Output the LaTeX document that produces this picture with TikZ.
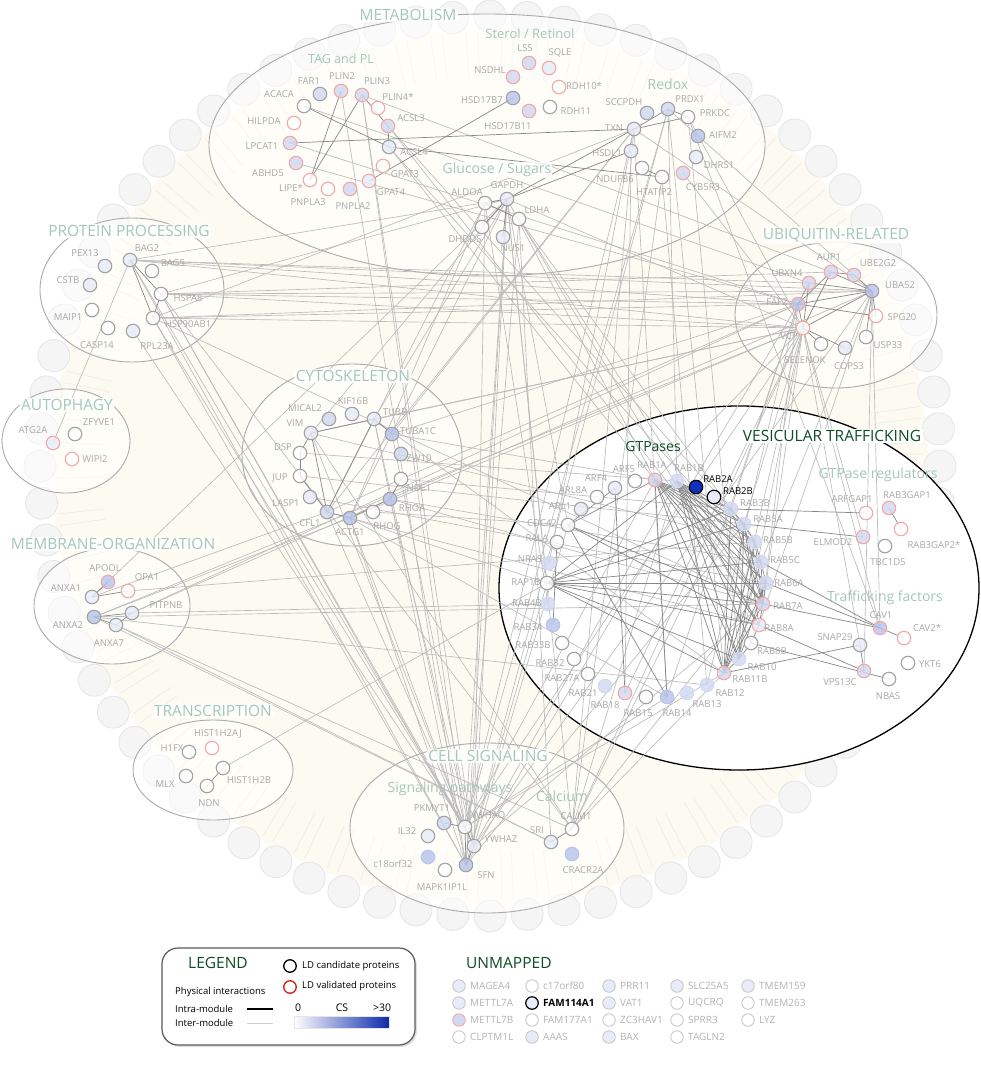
\documentclass[tikz,border=0pt]{standalone}
\usepackage{fontspec}
\setmainfont{Open Sans}
\usetikzlibrary{shapes.geometric,shadows}
\pgfdeclarelayer{bg}
\pgfdeclarelayer{edgelayer}
\pgfsetlayers{bg,edgelayer,main}
\definecolor{cream}{HTML}{FDFBF1}
\definecolor{headfill}{HTML}{F5F5F5}
\definecolor{headdraw}{HTML}{E6E6E6}
\definecolor{tailc}{HTML}{EEEEEE}
\definecolor{modg}{HTML}{AAAAAA}
\definecolor{edgel}{HTML}{BBBBBB}
\definecolor{edged}{HTML}{878787}
\definecolor{labg}{HTML}{A8A8A8}
\definecolor{modl}{HTML}{A5C7BA}
\definecolor{dgreen}{HTML}{0D4D22}
\definecolor{fw}{HTML}{FFFFFF}
\definecolor{fl}{HTML}{E8ECF8}
\definecolor{fm}{HTML}{D2D9F2}
\definecolor{fd}{HTML}{BAC4EC}
\definecolor{sg}{HTML}{A3A3A3}
\definecolor{sr}{HTML}{F3A9A9}
\definecolor{rabd}{HTML}{0F2FBF}
\definecolor{ulg}{HTML}{C8C8C8}
\definecolor{ult}{HTML}{B3B3B3}
\definecolor{legred}{HTML}{D21C1C}
\tikzset{
  prot/.style={circle,minimum size=13.5pt,inner sep=0pt,line width=1.1pt,fill opacity=0.82,draw opacity=1},
  plab/.style={text=labg,font=\fontsize{9.5}{11}\selectfont,inner sep=0pt},
  blab/.style={text=black,font=\fontsize{9.5}{11}\selectfont,inner sep=0pt},
  modlab/.style={text=modl,font=\fontsize{15.5}{18}\selectfont,fill=white,fill opacity=0.85,text opacity=1,inner sep=1.5pt,rounded corners=3pt},
  sublab/.style={text=modl,font=\fontsize{14}{16}\selectfont,inner sep=1pt},
  sublabw/.style={sublab,fill=white,fill opacity=0.85,text opacity=1},
  greenlab/.style={text=dgreen,font=\fontsize{15.5}{18}\selectfont,inner sep=1.5pt},
  module/.style={ellipse,draw=modg,line width=0.9pt,fill=white,fill opacity=0.5,draw opacity=1,inner sep=0pt},
  inter/.style={draw=edgel,line width=0.65pt},
  intra/.style={draw=edged,line width=0.7pt},
  headc/.style={draw=headdraw,fill=headfill,line width=0.8pt},
  tailline/.style={draw=tailc,line width=0.8pt},
  uprot/.style={circle,minimum size=12.5pt,inner sep=0pt,line width=0.9pt},
  ulab/.style={text=ult,font=\fontsize{10}{12}\selectfont,inner sep=0pt},
  legtxt/.style={text=black,font=\fontsize{9.5}{11}\selectfont,inner sep=0pt},
}
\newcommand\pr[8]{\node[prot,fill=#4,draw=#5] (#1) at (#2,#3) {};\node[plab] (#1-t) at (#6,#7) {#8};}
\newcommand\um[6]{\node[uprot,fill=#4,draw=#5] (#1) at (#2,#3) {};\node[ulab,anchor=west] (#1-t) at (#2+11,#3) {#6};}
\begin{document}
\begin{tikzpicture}[x=1pt,y=-1pt]
\useasboundingbox (0,0) rectangle (980,1078);
\begin{pgfonlayer}{bg}
\fill[white] (0,0) rectangle (980,1078);
% lipid droplet background
\fill[cream] (490,466) circle[radius=438pt];
\begin{scope}[shift={(490,466)}]
\foreach \i in {0,...,75}{
  \pgfmathsetmacro\angA{\i*4.7368+1.6}
  \pgfmathsetmacro\angB{\i*4.7368-1.6}
  \draw[tailline] (\angA:434) -- (\angA:388);
  \draw[tailline] (\angB:434) -- (\angB:388);
}
\foreach \i in {0,...,75}{
  \pgfmathsetmacro\ang{\i*4.7368}
  \draw[headc] (\ang:450) circle[radius=16pt];
}
\end{scope}
% modules
\node[module,minimum width=556pt,minimum height=262pt] (mMet) at (487,145) {};
\node[module,minimum width=184pt,minimum height=144pt] (mProt) at (132,290) {};
\node[module,minimum width=128pt,minimum height=104pt] (mAuto) at (66,441) {};
\node[module,minimum width=220pt,minimum height=182pt] (mCyto) at (352,455) {};
\node[module,minimum width=156pt,minimum height=116pt] (mMemb) at (112,606) {};
\node[module,minimum width=160pt,minimum height=100pt] (mTran) at (213,770) {};
\node[module,minimum width=274pt,minimum height=170pt] (mCell) at (487,828) {};
\node[module,minimum width=202pt,minimum height=146pt] (mUbiq) at (836,315) {};
\node[ellipse,draw=black,line width=1.3pt,fill=white,inner sep=0pt,minimum width=480pt,minimum height=364pt] (mVes) at (739,588) {};
% sub labels crossed by lines
\node[sublab] (sSig) at (450,789) {Signaling pathways};
\node[sublab] (sCal) at (562,796) {Calcium};
\node[sublab] (sReg) at (878,475) {GTPase regulators};
\node[sublab] (sTra) at (885,598) {Trafficking factors};
\node[sublab,font=\fontsize{13}{15}\selectfont] (sSte) at (530,34) {Sterol / Retinol};
\node[sublab,font=\fontsize{12.5}{15}\selectfont] (sTag) at (341,59) {TAG and PL};
\node[sublab] (sRed) at (668,84) {Redox};
\end{pgfonlayer}
% ---- proteins: metabolism
\pr{FAR1}{320}{94}{fm}{sg}{309}{81}{FAR1}
\pr{PLIN2}{341}{91}{fm}{sr}{342}{76}{PLIN2}
\pr{PLIN3}{362}{95}{fm}{sr}{377}{81}{PLIN3}
\pr{PLIN4s}{378}{108}{fw}{sr}{398}{97}{PLIN4*}
\pr{ACACA}{304}{106}{fw}{sg}{279}{94}{ACACA}
\pr{HILPDA}{294}{123}{fw}{sr}{264}{121}{HILPDA}
\pr{ACSL3}{388}{126}{fm}{sr}{411}{118}{ACSL3}
\pr{LPCAT1}{290}{143}{fm}{sr}{262}{146}{LPCAT1}
\pr{ACSL4}{389}{147}{fl}{sg}{414}{152}{ACSL4}
\pr{ABHD5}{296}{163}{fm}{sr}{268}{173}{ABHD5}
\pr{GPAT3}{383}{166}{fw}{sr}{405}{174}{GPAT3}
\pr{LIPEs}{310}{180}{fw}{sr}{291}{188}{LIPE*}
\pr{PNPLA3}{328}{189}{fw}{sr}{308}{202}{PNPLA3}
\pr{PNPLA2}{350}{189}{fm}{sr}{353}{206}{PNPLA2}
\pr{GPAT4}{369}{181}{fl}{sr}{391}{192}{GPAT4}
\pr{NSDHL}{513}{77}{fm}{sr}{490}{70}{NSDHL}
\pr{LSS}{529}{63}{fm}{sr}{525}{48}{LSS}
\pr{SQLE}{549}{68}{fl}{sr}{560}{53}{SQLE}
\pr{RDH10s}{559}{87}{fw}{sr}{584}{86}{RDH10*}
\pr{HSD17B7}{513}{98}{fd}{sg}{482}{100}{HSD17B7}
\pr{HSD17B11}{529}{111}{fm}{sr}{508}{126}{HSD17B11}
\pr{RDH11}{550}{107}{fw}{sg}{576}{111}{RDH11}
\pr{ALDOA}{485}{203}{fw}{sg}{467}{192}{ALDOA}
\pr{GAPDH}{507}{199}{fl}{sg}{507}{185}{GAPDH}
\pr{LDHA}{519}{219}{fw}{sg}{537}{210}{LDHA}
\pr{DHDDS}{482}{227}{fw}{sg}{465}{239}{DHDDS}
\pr{NUS1}{503}{237}{fl}{sg}{513}{248}{NUS1}
\pr{SCCPDH}{647}{113}{fm}{sg}{624}{102}{SCCPDH}
\pr{PRDX1}{668}{109}{fm}{sg}{690}{99}{PRDX1}
\pr{PRKDC}{688}{117}{fw}{sg}{715}{113}{PRKDC}
\pr{TXN}{634}{129}{fl}{sg}{614}{128}{TXN}
\pr{AIFM2}{698}{136}{fd}{sg}{723}{135}{AIFM2}
\pr{HSDL1}{631}{151}{fl}{sg}{607}{153}{HSDL1}
\pr{DHRS1}{696}{157}{fl}{sg}{719}{165}{DHRS1}
\pr{NDUFB6}{642}{168}{fw}{sg}{615}{179}{NDUFB6}
\pr{HTATIP2}{662}{177}{fw}{sg}{654}{192}{HTATIP2}
\pr{CYB5R3}{683}{173}{fm}{sr}{703}{187}{CYB5R3}
% protein processing
\pr{BAG2}{130}{260}{fl}{sg}{147}{248}{BAG2}
\pr{PEX13}{105}{266}{fl}{sg}{85}{253}{PEX13}
\pr{BAG5}{152}{271}{fw}{sg}{173}{263}{BAG5}
\pr{CSTB}{90}{285}{fl}{sg}{68}{280}{CSTB}
\pr{HSPA8}{161}{294}{fw}{sg}{188}{298}{HSPA8}
\pr{MAIP1}{92}{310}{fw}{sg}{68}{317}{MAIP1}
\pr{HSP90AB1}{153}{318}{fw}{sg}{188}{324}{HSP90AB1}
\pr{CASP14}{108}{328}{fw}{sg}{97}{345}{CASP14}
\pr{RPL23A}{133}{331}{fl}{sg}{157}{346}{RPL23A}
% autophagy
\pr{ATG2A}{53}{443}{fl}{sr}{33}{430}{ATG2A}
\pr{ZFYVE1}{75}{434}{fw}{sg}{99}{422}{ZFYVE1}
\pr{WIPI2}{72}{459}{fw}{sr}{95}{459}{WIPI2}
% cytoskeleton
\pr{MICAL2}{329}{419}{fm}{sg}{305}{408}{MICAL2}
\pr{KIF16B}{352}{414}{fl}{sg}{353}{401}{KIF16B}
\pr{TUBB}{374}{419}{fl}{sg}{395}{412}{TUBB}
\pr{VIM}{311}{433}{fl}{sg}{295}{423}{VIM}
\pr{TUBA1C}{392}{434}{fd}{sg}{418}{431}{TUBA1C}
\pr{DSP}{300}{453}{fw}{sg}{283}{447}{DSP}
\pr{ZW10}{401}{454}{fm}{sg}{419}{458}{ZW10}
\pr{JUP}{300}{476}{fw}{sg}{280}{478}{JUP}
\pr{NDE1}{401}{479}{fw}{sg}{419}{488}{NDE1}
\pr{LASP1}{310}{497}{fl}{sg}{286}{503}{LASP1}
\pr{RHOA}{390}{499}{fd}{sg}{412}{508}{RHOA}
\pr{CFL1}{327}{512}{fm}{sg}{310}{523}{CFL1}
\pr{ACTG1}{350}{518}{fd}{sg}{350}{532}{ACTG1}
\pr{RHOG}{373}{512}{fw}{sg}{387}{526}{RHOG}
% membrane organization
\pr{APOOL}{108}{582}{fd}{sr}{105}{568}{APOOL}
\pr{OPA1}{128}{591}{fw}{sr}{147}{577}{OPA1}
\pr{ANXA1}{92}{597}{fl}{sg}{66}{588}{ANXA1}
\pr{PITPNB}{132}{613}{fl}{sg}{166}{605}{PITPNB}
\pr{ANXA2}{94}{617}{fd}{sg}{68}{625}{ANXA2}
\pr{ANXA7}{116}{625}{fl}{sg}{109}{643}{ANXA7}
% transcription
\pr{HIST1H2AJ}{212}{748}{fw}{sr}{218}{734}{HIST1H2AJ}
\pr{H1FX}{189}{752}{fw}{sg}{172}{748}{H1FX}
\pr{HIST1H2B}{223}{768}{fw}{sg}{249}{780}{HIST1H2B}
\pr{MLX}{186}{776}{fw}{sg}{165}{784}{MLX}
\pr{NDN}{207}{786}{fw}{sg}{209}{803}{NDN}
% cell signaling
\pr{PKMYT1}{444}{823}{fm}{sg}{432}{808}{PKMYT1}
\pr{YWHAQ}{465}{827}{fw}{sg}{488}{816}{YWHAQ}
\pr{IL32}{428}{836}{fl}{sg}{407}{831}{IL32}
\pr{YWHAZ}{474}{846}{fl}{sg}{501}{839}{YWHAZ}
\pr{SRI}{551}{842}{fl}{sg}{537}{830}{SRI}
\pr{CALM1}{572}{829}{fw}{sg}{576}{816}{CALM1}
\pr{c18orf32}{428}{857}{fd}{fd}{393}{864}{c18orf32}
\pr{CRACR2A}{572}{854}{fd}{fd}{583}{870}{CRACR2A}
\pr{SFN}{466}{865}{fd}{sg}{486}{875}{SFN}
\pr{MAPK1IP1L}{445}{870}{fw}{sg}{442}{887}{MAPK1IP1L}
% ubiquitin
\pr{AUP1}{831}{272}{fm}{sr}{829}{257}{AUP1}
\pr{UBE2G2}{854}{275}{fm}{sr}{878}{263}{UBE2G2}
\pr{UBXN4}{809}{283}{fm}{sr}{787}{273}{UBXN4}
\pr{UBA52}{872}{291}{fd}{sg}{900}{285}{UBA52}
\pr{FAF2}{798}{304}{fd}{sr}{777}{302}{FAF2}
\pr{SPG20}{876}{316}{fw}{sr}{902}{317}{SPG20}
\pr{VCP}{803}{328}{fw}{sr}{789}{336}{VCP}
\pr{USP33}{866}{337}{fw}{sg}{888}{345}{USP33}
\pr{SELENOK}{821}{344}{fw}{sg}{805}{360}{SELENOK}
\pr{COPS3}{845}{348}{fl}{sg}{849}{366}{COPS3}
% vesicular trafficking - GTPases
\pr{RAB1A}{655}{480}{fm}{sr}{652}{465}{RAB1A}
\pr{RAB1B}{677}{481}{fm}{fm}{689}{468}{RAB1B}
\node[prot,fill=rabd,draw=black,fill opacity=1] (RAB2A) at (696,487) {};
\node[blab] (RAB2A-t) at (718,479) {RAB2A};
\node[prot,fill=fl,draw=black,fill opacity=1] (RAB2B) at (714,497) {};
\node[blab] (RAB2B-t) at (738,491) {RAB2B};
\pr{ARF5}{635}{481}{fw}{sg}{624}{469}{ARF5}
\pr{ARF4}{615}{488}{fl}{sg}{596}{478}{ARF4}
\pr{ARL8A}{597}{497}{fw}{sg}{573}{490}{ARL8A}
\pr{ARL1}{581}{509}{fl}{sg}{560}{506}{ARL1}
\pr{CDC42}{568}{525}{fw}{sg}{542}{523}{CDC42}
\pr{RALA}{557}{542}{fw}{sg}{537}{538}{RALA}
\pr{NRAS}{549}{563}{fm}{fm}{530}{559}{NRAS}
\pr{RAP1B}{547}{583}{fw}{sg}{526}{582}{RAP1B}
\pr{RAB4B}{548}{604}{fm}{fm}{527}{603}{RAB4B}
\pr{RAB34}{553}{625}{fd}{fd}{528}{627}{RAB34}
\pr{RAB33B}{562}{643}{fw}{sg}{533}{645}{RAB33B}
\pr{RAB32}{574}{659}{fw}{sg}{550}{663}{RAB32}
\pr{RAB27A}{588}{674}{fw}{sg}{562}{678}{RAB27A}
\pr{RAB21}{605}{686}{fm}{fm}{583}{693}{RAB21}
\pr{RAB18}{625}{693}{fm}{sr}{605}{705}{RAB18}
\pr{RAB15}{646}{697}{fw}{sg}{638}{713}{RAB15}
\pr{RAB14}{667}{697}{fd}{fd}{677}{713}{RAB14}
\pr{RAB13}{687}{693}{fm}{fm}{707}{704}{RAB13}
\pr{RAB12}{707}{685}{fm}{fm}{730}{693}{RAB12}
\pr{RAB11B}{724}{673}{fm}{sr}{750}{679}{RAB11B}
\pr{RAB10}{739}{659}{fm}{fm}{762}{667}{RAB10}
\pr{RAB8B}{751}{643}{fw}{sg}{772}{651}{RAB8B}
\pr{RAB8A}{759}{625}{fl}{sr}{779}{628}{RAB8A}
\pr{RAB7A}{763}{604}{fm}{sr}{788}{606}{RAB7A}
\pr{RAB6A}{766}{583}{fm}{fm}{789}{583}{RAB6A}
\pr{RAB5C}{761}{562}{fm}{fm}{785}{560}{RAB5C}
\pr{RAB5B}{755}{542}{fm}{fm}{778}{540}{RAB5B}
\pr{RAB5A}{744}{524}{fm}{fm}{768}{519}{RAB5A}
\pr{RAB3B}{731}{509}{fm}{fm}{755}{503}{RAB3B}
% regulators / trafficking factors
\pr{ARFGAP1}{866}{513}{fw}{sr}{852}{499}{ARFGAP1}
\pr{RAB3GAP1}{889}{508}{fm}{sr}{907}{495}{RAB3GAP1}
\pr{ELMOD2}{863}{537}{fm}{sr}{833}{542}{ELMOD2}
\pr{RAB3GAP2s}{901}{529}{fw}{sr}{934}{545}{RAB3GAP2*}
\pr{TBC1D5}{885}{546}{fw}{sg}{888}{562}{TBC1D5}
\pr{CAV1}{880}{628}{fd}{sr}{881}{615}{CAV1}
\pr{CAV2s}{904}{638}{fw}{sr}{927}{628}{CAV2*}
\pr{SNAP29}{860}{645}{fl}{sg}{835}{637}{SNAP29}
\pr{YKT6}{908}{663}{fw}{sg}{930}{664}{YKT6}
\pr{VPS13C}{864}{671}{fm}{sr}{840}{682}{VPS13C}
\pr{NBAS}{889}{679}{fw}{sg}{888}{696}{NBAS}
\begin{pgfonlayer}{edgelayer}
% ---- inter-module interactions
\foreach \a/\b in {BAG2/UBA52,BAG2/FAF2,BAG2/VCP,HSPA8/UBA52,HSPA8/FAF2,HSPA8/VCP,HSP90AB1/UBA52,HSP90AB1/VCP,HSP90AB1/FAF2,HSPA8/AUP1,BAG2/UBXN4,
 BAG2/ATG2A,BAG2/YWHAQ,HSPA8/YWHAZ,HSP90AB1/SFN,HSP90AB1/RAB7A,HSPA8/GAPDH,HSP90AB1/TXN,RPL23A/YWHAQ,HSP90AB1/YWHAQ,HSPA8/CALM1,BAG2/GAPDH,
 VCP/RAB1A,VCP/RAB7A,VCP/RAB5A,VCP/RAB11B,VCP/SNAP29,FAF2/RAB7A,FAF2/RAB14,UBA52/CAV1,UBA52/RAB8A,VCP/ELMOD2,FAF2/RAB3B,VCP/RAB10,UBA52/RAB5C,VCP/RAB18,VCP/CAV1,FAF2/RAB12,UBA52/VPS13C,
 VCP/TUBB,FAF2/TUBA1C,VCP/ACTG1,UBA52/RHOA,FAF2/CFL1,VCP/VIM,
 FAF2/ABHD5,VCP/PRKDC,UBA52/PRDX1,VCP/CYB5R3,FAF2/LPCAT1,UBXN4/ACACA,AUP1/PLIN3,VCP/GAPDH,UBA52/TXN,
 VCP/ANXA2,FAF2/PITPNB,VCP/YWHAQ,VCP/CALM1,UBA52/YWHAZ,FAF2/SFN,
 YWHAQ/PLIN3,YWHAQ/GAPDH,YWHAQ/TUBB,YWHAQ/ACTG1,YWHAQ/CFL1,YWHAQ/RAB1A,YWHAQ/RAB11B,YWHAQ/PRDX1,YWHAQ/TXN,YWHAZ/PLIN3,YWHAZ/GAPDH,YWHAZ/TUBA1C,YWHAZ/RHOA,YWHAZ/RAB1B,YWHAZ/RAB7A,YWHAZ/CDC42,
 SFN/PLIN2,SFN/GAPDH,SFN/ACTG1,SFN/TUBB,SFN/RAB5A,SFN/LDHA,SFN/BAG2,YWHAQ/HSPA8,YWHAQ/VIM,CALM1/RAB1B,CALM1/RAB3B,CALM1/RAB11B,CALM1/GAPDH,CALM1/HTATIP2,CALM1/TXN,SRI/ANXA7,SRI/ANXA2,CALM1/VIM,YWHAQ/RAB14,SFN/PRDX1,YWHAZ/ALDOA,SRI/LDHA,CALM1/RAB6A,SFN/RAP1B,
 GAPDH/RAB1A,GAPDH/RAP1B,LDHA/RAB7A,LDHA/RAB8A,LDHA/RAB5B,GAPDH/CDC42,TXN/RAB14,PRDX1/RAB11B,PRKDC/RAB10,HTATIP2/RAB12,ALDOA/RAB4B,ACSL4/RAB5C,ACSL3/RAB5A,ACSL3/RAB7A,ACSL4/RAB1A,PRDX1/RAB1B,TXN/NRAS,HSDL1/RAB18,PRKDC/CAV1,
 GAPDH/TUBB,GAPDH/ACTG1,GAPDH/VIM,ALDOA/ACTG1,ALDOA/CFL1,TXN/CFL1,TXN/TUBA1C,
 ANXA1/CFL1,PITPNB/RHOA,OPA1/RAB5B,ANXA2/RAB7A,ANXA2/RAB12,PITPNB/RAB4B,ANXA7/CALM1,ANXA2/ACTG1,ANXA1/GAPDH,HIST1H2B/RAP1B,
 JUP/RAB5A,DSP/RAB1B,LASP1/RAB6A,RHOA/RAB5C,NDE1/RAB3B,CFL1/RAB8A,ACTG1/RAP1B,TUBA1C/RAB1A,RHOG/CDC42,RHOA/RAB7A,TUBB/RAB11B,ACTG1/RAB14,VIM/RAB5B}
 {\draw[inter] (\a.center) -- (\b.center);}
% ---- intra-module interactions
\foreach \a/\b in {PLIN2/LIPEs,PLIN3/LIPEs,PLIN3/ACSL3,ACSL3/ACSL4,HSD17B7/GPAT4,GAPDH/ALDOA,GAPDH/DHDDS,GAPDH/NUS1,ALDOA/LDHA,TXN/PRDX1,TXN/PRKDC,PRDX1/PRKDC,NDUFB6/HTATIP2,ACSL4/HTATIP2,LPCAT1/TXN,ACACA/ACSL4,GAPDH/TXN,GAPDH/HSDL1,
 BAG2/HSPA8,BAG2/HSP90AB1,HSPA8/HSP90AB1,
 VIM/DSP,DSP/JUP,JUP/CFL1,VIM/CFL1,VIM/TUBB,CFL1/TUBB,CFL1/ACTG1,TUBB/TUBA1C,ACTG1/RHOA,RHOA/NDE1,
 ANXA1/APOOL,ANXA2/PITPNB,ANXA2/ANXA7,ANXA7/PITPNB,ANXA1/OPA1,NDN/HIST1H2B,
 PKMYT1/YWHAQ,YWHAQ/YWHAZ,YWHAQ/SFN,YWHAZ/SFN,SRI/CALM1,
 FAF2/UBXN4,FAF2/AUP1,AUP1/UBE2G2,UBE2G2/UBA52,AUP1/UBA52,FAF2/UBA52,VCP/FAF2,VCP/UBXN4,VCP/AUP1,VCP/UBA52,VCP/SELENOK,VCP/COPS3,UBA52/SPG20,UBA52/USP33,UBXN4/UBA52,FAF2/SPG20,
 RAB1A/RAB3B,RAB1A/RAB5A,RAB1A/RAB5B,RAB1A/RAB5C,RAB1A/RAB6A,RAB1A/RAB7A,RAB1A/RAB8A,RAB1A/RAB10,RAB1A/RAB11B,RAB1A/RAB14,
 RAB1B/RAB3B,RAB1B/RAB5A,RAB1B/RAB5B,RAB1B/RAB5C,RAB1B/RAB6A,RAB1B/RAB7A,RAB1B/RAB8A,RAB1B/RAB8B,RAB1B/RAB10,RAB1B/RAB11B,
 RAB11B/RAB3B,RAB11B/RAB5A,RAB11B/RAB5B,RAB11B/RAB5C,RAB11B/RAB6A,RAB11B/RAB7A,RAB11B/RAP1B,
 RAB3B/RAB5A,RAB5A/RAB5B,RAB5B/RAB5C,RAB5C/RAB6A,RAB6A/RAB7A,RAB7A/RAB8A,RAB8A/RAB8B,RAB8B/RAB10,RAB10/RAB11B,RAB5A/RAB7A,RAB5B/RAB7A,RAB5C/RAB7A,RAB5A/RAB8A,RAB5A/RAB10,RAB3B/RAB7A,RAB5B/RAB10,RAB6A/RAB10,
 RAP1B/RAB3B,RAP1B/RAB5A,RAP1B/RAB5C,RAP1B/RAB6A,RAP1B/RAB7A,RAP1B/RAB8A,RAP1B/RAB1B,RAP1B/RAB10,
 CDC42/RAB14,CDC42/ARF4,CDC42/RAB7A,CDC42/RAB1A,CDC42/RAB8A,ARF4/RAB18,RALA/RAB34,
 RAB3B/ARFGAP1,RAB5A/ELMOD2,RAB6A/CAV1,RAB7A/CAV1,RAB5C/CAV1,RAB11B/SNAP29,RAB8A/VPS13C,RAB8B/NBAS,RAB3GAP1/RAB3GAP2s,CAV1/CAV2s,SNAP29/VPS13C}
 {\draw[intra] (\a.center) -- (\b.center);}
\end{pgfonlayer}
% ---- module labels
\node[modlab] (lMet) at (408,15) {METABOLISM};
\node[sublabw] (sGlu) at (497,170) {Glucose / Sugars};
\node[modlab] (lProt) at (129,231) {PROTEIN PROCESSING};
\node[modlab] (lAuto) at (67,405) {AUTOPHAGY};
\node[modlab] (lCyto) at (353,376) {CYTOSKELETON};
\node[modlab] (lMemb) at (113,544) {MEMBRANE-ORGANIZATION};
\node[modlab] (lTran) at (213,711) {TRANSCRIPTION};
\node[modlab] (lCell) at (488,756) {CELL SIGNALING};
\node[modlab] (lUbiq) at (836,235) {UBIQUITIN-RELATED};
\node[greenlab,font=\fontsize{14}{16}\selectfont] (lGTP) at (653,446) {GTPases};
\node[greenlab,fill=white] (lVes) at (832,436) {VESICULAR TRAFFICKING};
% ---- legend
\node[draw=black!65,line width=1.2pt,rounded corners=16pt,fill=white,minimum width=253pt,minimum height=97pt,drop shadow={opacity=0.25,shadow xshift=2pt,shadow yshift=-2pt}] (legend) at (288.5,996.5) {};
\node[text=dgreen,font=\fontsize{15.5}{18}\selectfont,inner sep=0pt] (legT) at (218,963) {LEGEND};
\node[prot,fill=white,draw=black,line width=1.3pt,minimum size=12.5pt] (legC) at (290,966) {};
\node[legtxt,anchor=west] (legCt) at (302,966) {LD candidate proteins};
\node[prot,fill=white,draw=legred,line width=1.3pt,minimum size=12.5pt] (legV) at (290,987) {};
\node[legtxt,anchor=west] (legVt) at (302,986) {LD validated proteins};
\node[legtxt,anchor=west] (legPI) at (175,992) {Physical interactions};
\node[legtxt,anchor=west] (legIa) at (175,1009) {Intra-module};
\node[legtxt,anchor=west] (legIe) at (175,1023) {Inter-module};
\coordinate (li1) at (247,1009); \coordinate (li2) at (273,1009);
\coordinate (le1) at (247,1023); \coordinate (le2) at (273,1023);
\draw[black,line width=1.2pt] (li1) -- (li2);
\draw[black!20,line width=1pt] (le1) -- (le2);
\node[legtxt,font=\fontsize{10.5}{12}\selectfont] (leg0) at (298,1008) {0};
\node[legtxt,font=\fontsize{10.5}{12}\selectfont] (legCS) at (342,1008) {CS};
\node[legtxt,font=\fontsize{10.5}{12}\selectfont] (leg30) at (382,1008) {>30};
\shade[left color=white,right color=rabd!90!black] (294,1016) rectangle (389,1028);
\draw[black!10,line width=0.5pt] (294,1016) rectangle (389,1028);
% ---- unmapped
\node[text=dgreen,font=\fontsize{15.5}{18}\selectfont,inner sep=0pt,anchor=west] (lUnm) at (466,963) {UNMAPPED};
\um{MAGEA4}{459}{986}{fl}{ulg}{MAGEA4}
\um{METTL7A}{459}{1003}{fl}{ulg}{METTL7A}
\um{METTL7B}{459}{1020}{fm}{sr}{METTL7B}
\um{CLPTM1L}{459}{1037}{fw}{ulg}{CLPTM1L}
\um{c17orf80}{532}{986}{fw}{ulg}{c17orf80}
\node[uprot,fill=fl,draw=black,line width=1.2pt] (FAM114A1) at (532,1003) {};
\node[ulab,text=black,font=\fontsize{10}{12}\selectfont\bfseries,anchor=west] (FAM114A1-t) at (543,1003) {FAM114A1};
\um{FAM177A1}{532}{1020}{fw}{ulg}{FAM177A1}
\um{AAAS}{532}{1037}{fl}{ulg}{AAAS}
\um{PRR11}{609}{986}{fl}{ulg}{PRR11}
\um{VAT1}{609}{1003}{fl}{ulg}{VAT1}
\um{ZC3HAV1}{609}{1020}{fw}{ulg}{ZC3HAV1}
\um{BAX}{609}{1037}{fl}{ulg}{BAX}
\um{SLC25A5}{677}{986}{fl}{ulg}{SLC25A5}
\um{UQCRQ}{677}{1003}{fw}{ulg}{UQCRQ}
\um{SPRR3}{677}{1020}{fw}{ulg}{SPRR3}
\um{TAGLN2}{677}{1037}{fw}{ulg}{TAGLN2}
\um{TMEM159}{748}{986}{fl}{ulg}{TMEM159}
\um{TMEM263}{748}{1003}{fw}{ulg}{TMEM263}
\um{LYZ}{748}{1020}{fw}{ulg}{LYZ}
\end{tikzpicture}
\end{document}
